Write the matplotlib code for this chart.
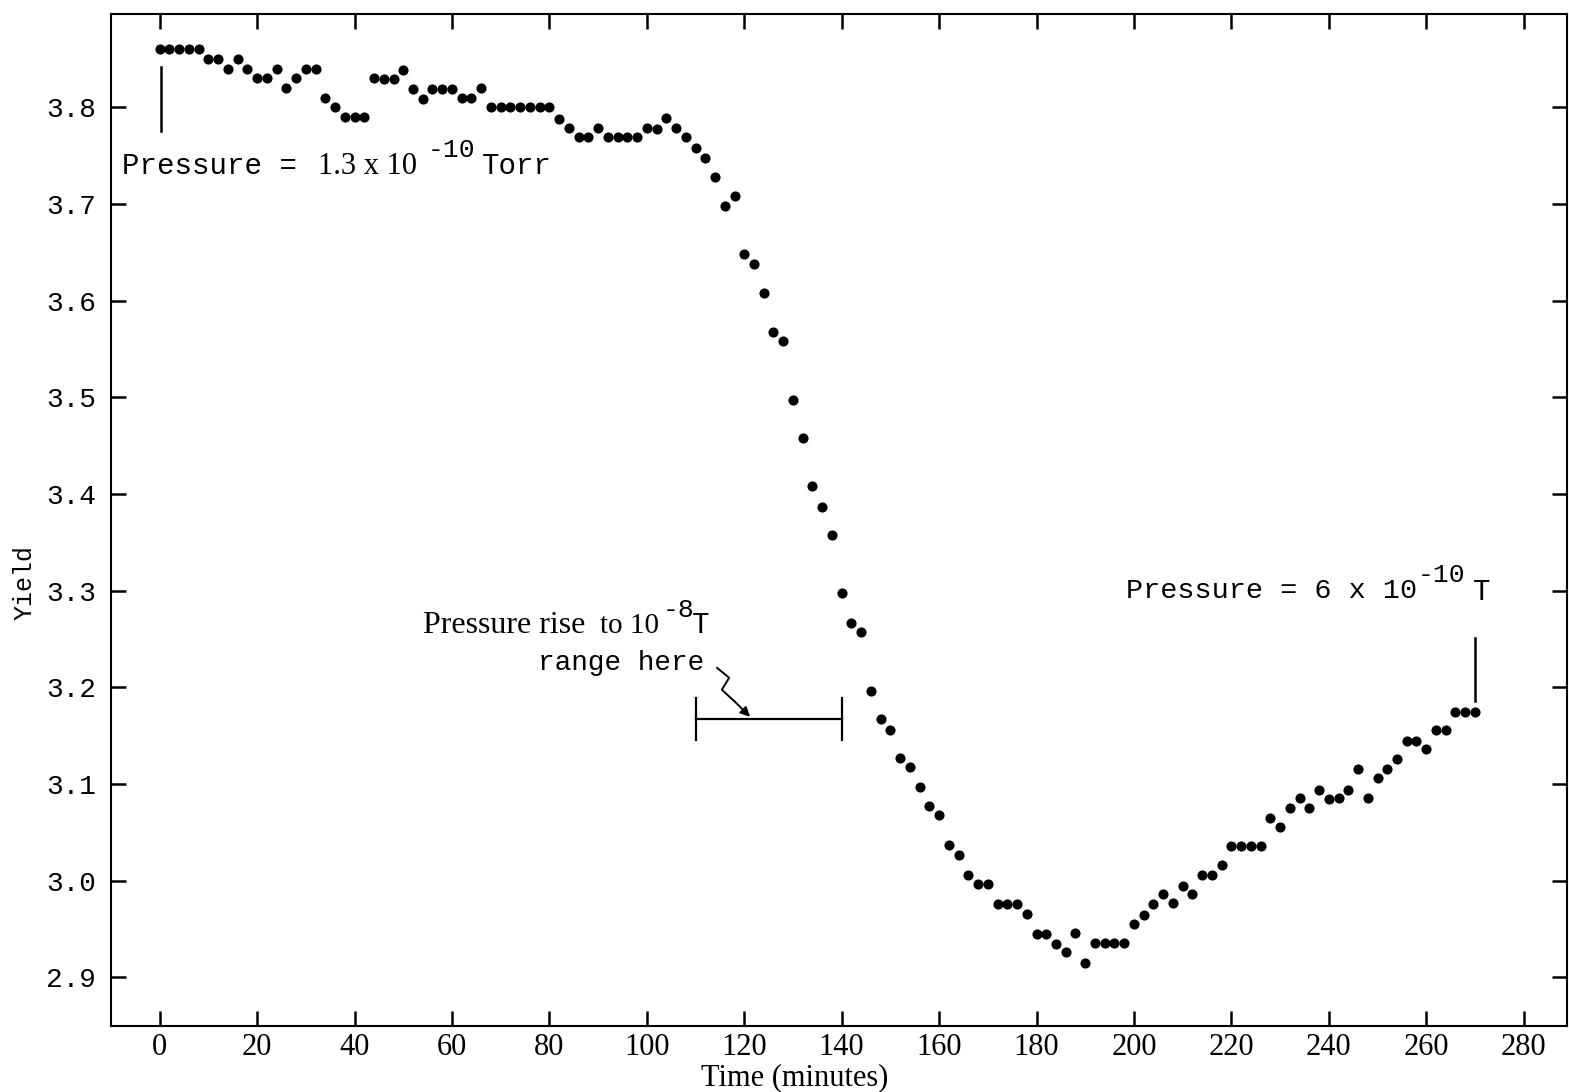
import matplotlib
matplotlib.use("Agg")
import matplotlib.pyplot as plt
from matplotlib.lines import Line2D

# ---------------- data ----------------
time_min = [0, 2, 4, 6, 8, 10, 12, 14, 16, 18, 20, 22, 24, 26, 28, 30, 32, 34, 36, 38,
            40, 42, 44, 46, 48, 50, 52, 54, 56, 58, 60, 62, 64, 66, 68, 70, 72, 74, 76, 78,
            80, 82, 84, 86, 88, 90, 92, 94, 96, 98, 100, 102, 104, 106, 108, 110, 112, 114,
            116, 118, 120, 122, 124, 126, 128, 130, 132, 134, 136, 138, 140, 142, 144, 146,
            148, 150, 152, 154, 156, 158, 160, 162, 164, 166, 168, 170, 172, 174, 176, 178,
            180, 182, 184, 186, 188, 190, 192, 194, 196, 198, 200, 202, 204, 206, 208, 210,
            212, 214, 216, 218, 220, 222, 224, 226, 228, 230, 232, 234, 236, 238, 240, 242,
            244, 246, 248, 250, 252, 254, 256, 258, 260, 262, 264, 266, 268, 270]

yield_vals = [3.860, 3.860, 3.860, 3.860, 3.860,
              3.850, 3.850, 3.840, 3.850, 3.840,
              3.830, 3.830, 3.840, 3.820, 3.830,
              3.840, 3.840, 3.810, 3.800, 3.790,
              3.790, 3.790, 3.830, 3.829, 3.829,
              3.839, 3.819, 3.809, 3.819, 3.819,
              3.819, 3.810, 3.810, 3.820, 3.800,
              3.800, 3.800, 3.800, 3.800, 3.800,
              3.800, 3.788, 3.779, 3.769, 3.769,
              3.779, 3.769, 3.769, 3.769, 3.769,
              3.779, 3.778, 3.789, 3.779, 3.769,
              3.758, 3.748, 3.728, 3.698, 3.708,
              3.648, 3.638, 3.608, 3.568, 3.558,
              3.497, 3.458, 3.408, 3.387, 3.358,
              3.298, 3.267, 3.257, 3.196, 3.167,
              3.156, 3.127, 3.118, 3.097, 3.077,
              3.068, 3.037, 3.027, 3.006, 2.997,
              2.997, 2.976, 2.976, 2.976, 2.966,
              2.945, 2.945, 2.935, 2.926, 2.946,
              2.915, 2.936, 2.936, 2.936, 2.936,
              2.955, 2.965, 2.976, 2.986, 2.977,
              2.995, 2.986, 3.006, 3.006, 3.016,
              3.036, 3.036, 3.036, 3.036, 3.065,
              3.056, 3.075, 3.086, 3.075, 3.094,
              3.085, 3.086, 3.094, 3.116, 3.086,
              3.106, 3.116, 3.126, 3.145, 3.145,
              3.136, 3.156, 3.156, 3.175, 3.175,
              3.175]

x_ticks = [0, 20, 40, 60, 80, 100, 120, 140, 160, 180, 200, 220, 240, 260, 280]
y_ticks = [2.9, 3.0, 3.1, 3.2, 3.3, 3.4, 3.5, 3.6, 3.7, 3.8]
y_tick_labels = ["2.9", "3.0", "3.1", "3.2", "3.3", "3.4", "3.5", "3.6", "3.7", "3.8"]

# pressure-rise interval (minutes) and its level on the yield axis
rise_start, rise_end, rise_level = 110, 140, 3.167
# vertical markers for the two pressure readings
start_mark = (0.3, 3.775, 3.842)
end_mark = (270, 3.186, 3.251)

# ---------------- figure ----------------
W, H = 1569, 1092
fig = plt.figure(figsize=(W / 100, H / 100), dpi=100)
ax = fig.add_axes([111 / W, 1 - 1025.7 / H, (1567 - 111) / W, (1025.7 - 14) / H])

ax.plot(time_min, yield_vals, linestyle="none", marker="o", markersize=7.3,
        color="black", markeredgewidth=0)

ax.set_xlim(-10.0, 288.9)
ax.set_ylim(2.85, 3.8965)

ax.set_xticks(x_ticks)
ax.set_xticklabels([str(v) for v in x_ticks], fontfamily="Liberation Serif", fontsize=22)
ax.set_yticks(y_ticks)
ax.set_yticklabels(y_tick_labels, fontfamily="Liberation Mono", fontsize=20)
ax.tick_params(axis="both", direction="in", length=11, width=1.8,
               top=True, right=True, color="black")
ax.tick_params(axis="x", pad=5)
ax.tick_params(axis="y", pad=11)
for s in ax.spines.values():
    s.set_linewidth(1.5)

# vertical markers
ax.add_line(Line2D([start_mark[0], start_mark[0]], [start_mark[1], start_mark[2]],
                   color="black", lw=1.8))
ax.add_line(Line2D([end_mark[0], end_mark[0]], [end_mark[1], end_mark[2]],
                   color="black", lw=1.8))

# bracket for pressure rise interval
ax.add_line(Line2D([rise_start, rise_end], [rise_level, rise_level], color="black", lw=1.6))
for xx in (rise_start, rise_end):
    ax.add_line(Line2D([xx, xx], [rise_level - 0.021, rise_level + 0.022],
                       color="black", lw=1.6))

# squiggly arrow
sq_x = [114.4, 116.9, 115.4, 118.1]
sq_y = [3.2202, 3.2099, 3.1975, 3.185]
ax.plot(sq_x, sq_y, color="black", lw=1.4, solid_capstyle="round")
ax.annotate("", xy=(121.2, 3.1695), xytext=(118.1, 3.185),
            arrowprops=dict(arrowstyle="-|>", color="black", lw=1.4,
                            mutation_scale=14, shrinkA=0, shrinkB=0))

# ---------------- texts (pixel-placed) ----------------
def ftext(px, py, s, family="Liberation Mono", size=21, **kw):
    fig.text(px / W, 1 - py / H, s, fontfamily=family, fontsize=size,
             va="baseline", ha="left", color="black", **kw)

# left annotation
ftext(122, 174, "Pressure =", size=21)
ftext(318, 174, "1.3 x 10", family="Liberation Serif", size=22)
ftext(428, 157, "-10", size=19)
ftext(482, 174, "Torr", size=21)

# right annotation
ftext(1126, 598, "Pressure = 6 x 10", size=20.5)
ftext(1418, 582, "-10", size=19)
ftext(1473, 600, "T", size=21)

# middle annotation
ftext(423, 633, "Pressure rise", family="Liberation Serif", size=23)
ftext(600, 633, "to 10", family="Liberation Serif", size=21)
ftext(663, 617, "-8", size=19)
ftext(692, 633, "T", size=21)
ftext(538, 670, "range here", size=20)

# axis labels
fig.text(795 / W, 1 - 1078 / H, "Time (minutes)", fontfamily="Liberation Serif",
         fontsize=22, ha="center", va="center")
fig.text(25 / W, 1 - 583 / H, "Yield", fontfamily="Liberation Mono",
         fontsize=18, rotation=90, ha="center", va="center")

fig.savefig("out.png", dpi=100)
